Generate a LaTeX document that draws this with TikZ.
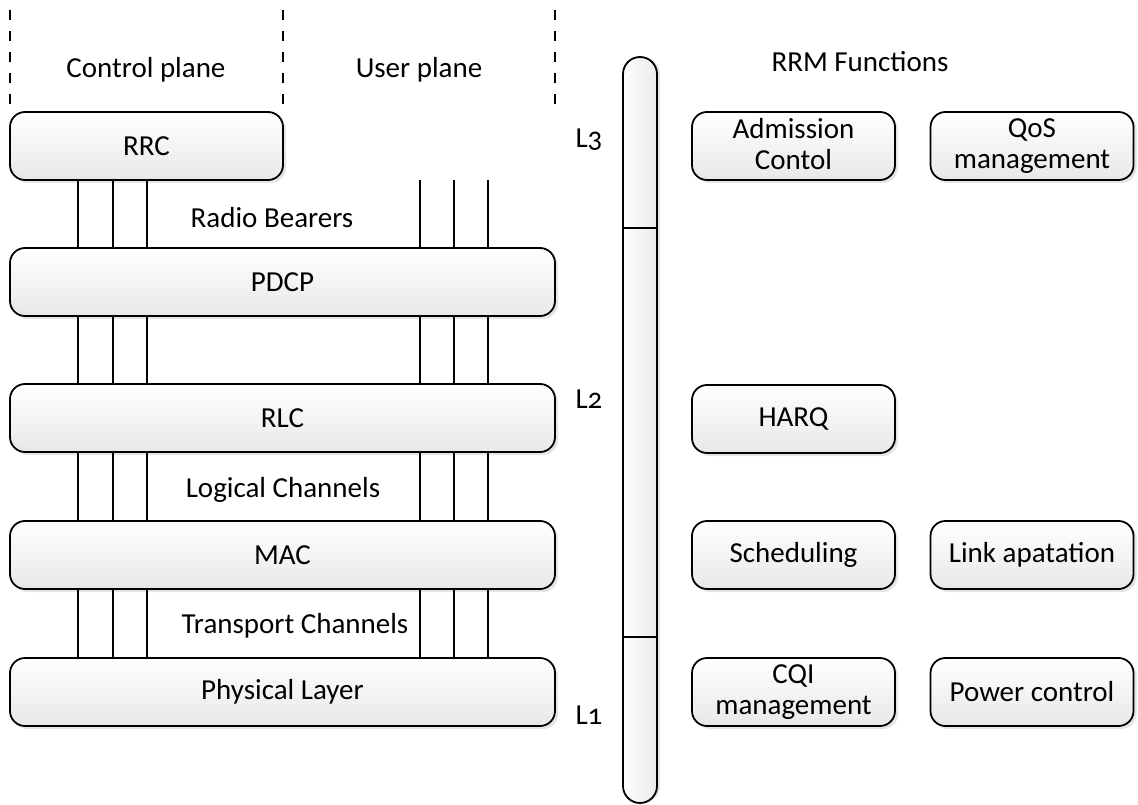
\documentclass[tikz,border=0pt]{standalone}
\usepackage{fontspec}
\setmainfont{Carlito}[Numbers=OldStyle]
\usetikzlibrary{positioning, shadows}

\tikzset{
  layer/.style={shape=rectangle, rounded corners=15pt, draw=black, line width=1.8pt,
    top color=white, bottom color=black!9, minimum height=68pt,
    drop shadow={shadow xshift=3pt, shadow yshift=-3pt, fill=black!10, opacity=1}},
  rrm/.style={layer, minimum width=203pt, align=center},
  tworrm/.style={rrm, execute at begin node={\vphantom{d}}, execute at end node={\vphantom{g}}},
  chan/.style={line width=1.6pt},
  plane/.style={line width=1.4pt, dash pattern=on 10pt off 11pt},
}

\begin{document}
\begin{tikzpicture}[x=1pt, y=-1pt, font=\fontsize{29}{31}\selectfont]
\useasboundingbox (0,0) rectangle (1138,805);
%planes
\node (cplane) at (146,70) {Control plane};
\node (uplane) at (419,70) {User plane};
\coordinate (d1) at (10,10);
\coordinate (d2) at (283,10);
\coordinate (d3) at (555,10);
\foreach \d in {d1,d2,d3}
  \draw[plane] (\d) -- ++(0,98);
%protocol stack
\node[layer, minimum width=273pt] (rrc) at (146.5,146) {RRC};
\node[layer, minimum width=545pt] (pdcp) at (282.5,282) {PDCP};
\node[layer, minimum width=545pt] (rlc) at (282.5,418) {RLC};
\node[layer, minimum width=545pt] (mac) at (282.5,555) {MAC};
\node[layer, minimum width=545pt] (phy) at (282.5,692) {Physical Layer};
%channels
\coordinate (c1) at (78,0);
\coordinate (c2) at (113,0);
\coordinate (c3) at (147,0);
\coordinate (u1) at (420,180);
\coordinate (u2) at (454,180);
\coordinate (u3) at (488,180);
\foreach \c in {c1,c2,c3}{
  \draw[chan] (rrc.south -| \c) -- (pdcp.north -| \c);
  \draw[chan] (pdcp.south -| \c) -- (rlc.north -| \c);
  \draw[chan] (rlc.south -| \c) -- (mac.north -| \c);
  \draw[chan] (mac.south -| \c) -- (phy.north -| \c);
}
\foreach \c in {u1,u2,u3}{
  \draw[chan] (\c) -- (pdcp.north -| \c);
  \draw[chan] (pdcp.south -| \c) -- (rlc.north -| \c);
  \draw[chan] (rlc.south -| \c) -- (mac.north -| \c);
  \draw[chan] (mac.south -| \c) -- (phy.north -| \c);
}
\node (rb) at (272,218) {Radio Bearers};
\node (lc) at (283,490) {Logical Channels};
\node (tc) at (295,626) {Transport Channels};
%layer bar
\node[shape=rectangle, rounded corners=17pt, draw=black, line width=1.8pt,
  left color=white, right color=black!8, minimum width=34pt, minimum height=746pt,
  drop shadow={shadow xshift=3pt, shadow yshift=0pt, fill=black!10, opacity=1}] (bar) at (640,430) {};
\coordinate (b32) at (0,228);
\coordinate (b21) at (0,637);
\draw[line width=1.8pt] (bar.west |- b32) -- (bar.east |- b32);
\draw[line width=1.8pt] (bar.west |- b21) -- (bar.east |- b21);
\node (l3) at (589,140) {L3};
\node (l2) at (589,399) {L2};
\node (l1) at (589,715) {L1};
%RRM functions
\node (rrmf) at (860,62) {RRM Functions};
\node[tworrm] (adm) at (793.5,146) {Admission\\Contol};
\node[tworrm] (qos) at (1032,146) {QoS\\management};
\node[rrm] (harq) at (793.5,419) {HARQ};
\node[rrm] (sched) at (793.5,555) {Scheduling};
\node[rrm] (link) at (1032,555) {Link apatation};
\node[tworrm] (cqi) at (793.5,692) {CQI\\management};
\node[rrm] (pwr) at (1032,692) {Power control};
\end{tikzpicture}
\end{document}
